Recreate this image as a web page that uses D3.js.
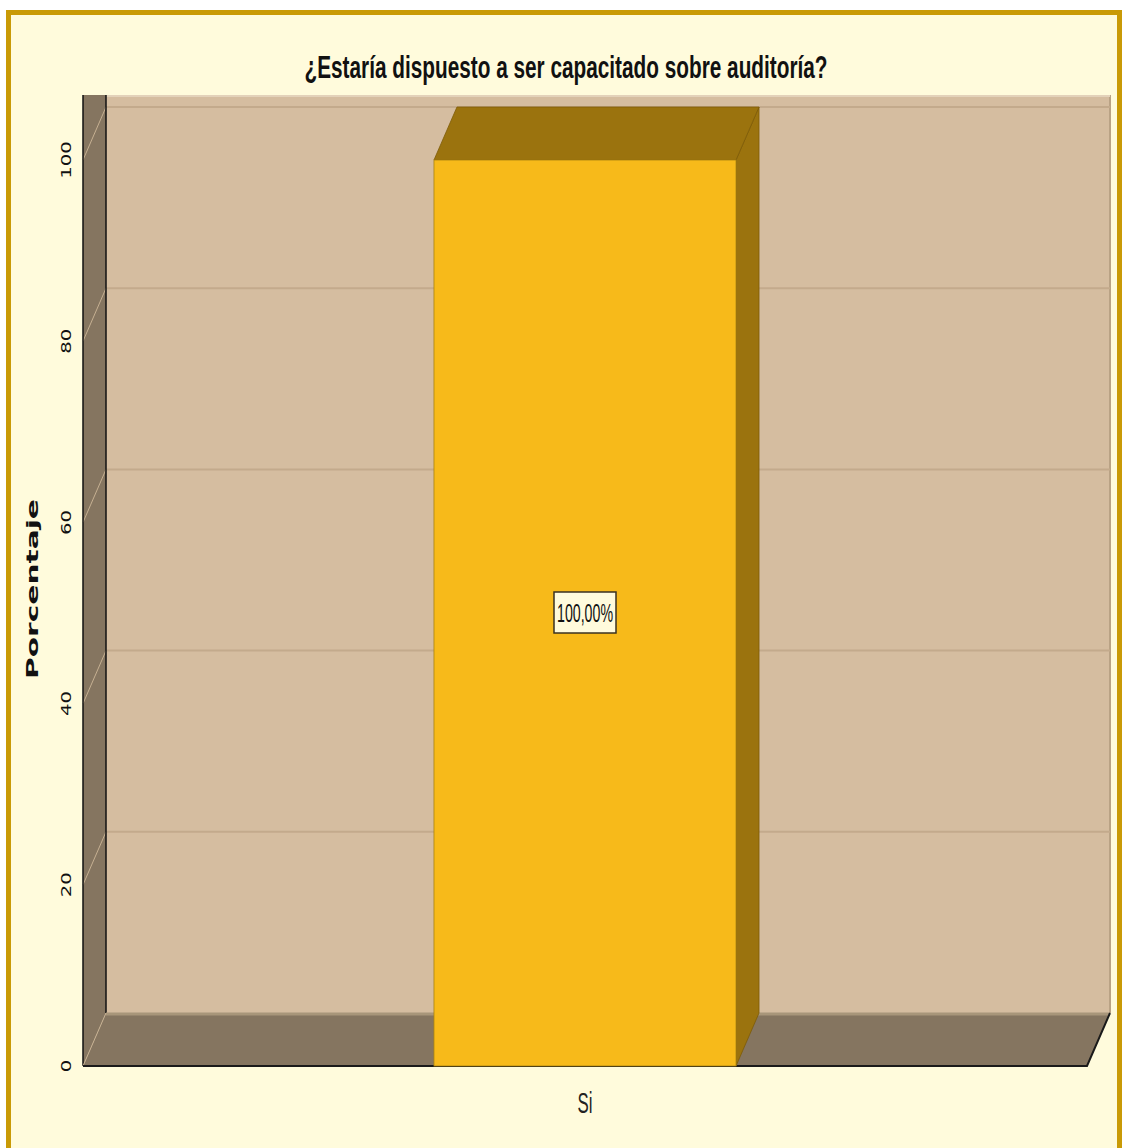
<!DOCTYPE html>
<html>
<head>
<meta charset="utf-8">
<script src="https://cdn.jsdelivr.net/npm/d3@7"></script>
<style>
  html,body{margin:0;padding:0;background:#ffffff;}
  svg{display:block;}
</style>
</head>
<body>
<script>
// ---- data ----
const categories = ["Si"];
const percentages = [100];
const barLabels = ["100,00%"];
const yTicks = [0, 20, 40, 60, 80, 100];
const titleText = "¿Estaría dispuesto a ser capacitado sobre auditoría?";
const yAxisTitle = "Porcentaje";

const W = 1123, H = 1148;
const svg = d3.select("body").append("svg").attr("width", W).attr("height", H);

// frame
svg.append("rect").attr("x", 8.5).attr("y", 12.5).attr("width", 1111).attr("height", 1150)
  .attr("fill", "#FFFBDC").attr("stroke", "#C99A06").attr("stroke-width", 5);

// geometry
const front = {left: 83, right: 1087, bottom: 1066};
const depth = {dx: 23, dy: -53};
const wallTop = 95;

const y = d3.scaleLinear().domain([0, 100]).range([front.bottom, 160]);
const x = d3.scaleBand().domain(categories).range([front.left, front.right]).paddingInner(0).paddingOuter(1.162);

const backY = v => y(v) + depth.dy;
const backLeft = front.left + depth.dx, backRight = front.right + depth.dx;

const defs = svg.append("defs");
defs.append("clipPath").attr("id", "plotclip").append("rect")
  .attr("x", 0).attr("y", wallTop).attr("width", W).attr("height", H);

const g = svg.append("g").attr("clip-path", "url(#plotclip)");

// back wall
g.append("rect").attr("x", backLeft).attr("y", wallTop).attr("width", backRight - backLeft)
  .attr("height", backY(0) - wallTop).attr("fill", "#D5BDA0");
g.append("line").attr("x1", backRight).attr("x2", backRight).attr("y1", wallTop).attr("y2", backY(0))
  .attr("stroke", "#B9A285").attr("stroke-width", 2);
g.append("line").attr("x1", backLeft).attr("x2", backRight).attr("y1", wallTop + 1).attr("y2", wallTop + 1)
  .attr("stroke", "#E3D2BA").attr("stroke-width", 2);

// gridlines on back wall
g.selectAll("line.grid").data(yTicks.filter(d => d > 0)).enter().append("line")
  .attr("class", "grid")
  .attr("x1", backLeft).attr("x2", backRight)
  .attr("y1", d => backY(d)).attr("y2", d => backY(d))
  .attr("stroke", "#C3AA8C").attr("stroke-width", 2);

// left side wall
g.append("path").attr("d", `M${front.left},${front.bottom} L${front.left},${y(100) + depth.dy - 30} L${backLeft},${backY(100) - 30} L${backLeft},${backY(0)} Z`)
  .attr("fill", "#857560");
g.selectAll("line.sgrid").data(yTicks.filter(d => d > 0)).enter().append("line")
  .attr("x1", front.left).attr("y1", d => y(d))
  .attr("x2", backLeft).attr("y2", d => backY(d))
  .attr("stroke", "#C6B092").attr("stroke-width", 1);
g.append("line").attr("x1", front.left).attr("y1", front.bottom).attr("x2", front.left).attr("y2", 0)
  .attr("stroke", "#111").attr("stroke-width", 1.5);
g.append("line").attr("x1", backLeft).attr("y1", backY(0)).attr("x2", backLeft).attr("y2", 0)
  .attr("stroke", "#111").attr("stroke-width", 1.5);

// floor
svg.append("path").attr("d", `M${front.left},${front.bottom} L${backLeft},${backY(0)} L${backRight},${backY(0)} L${front.right},${front.bottom} Z`)
  .attr("fill", "#857560");
svg.append("line").attr("x1", backLeft).attr("x2", backRight).attr("y1", backY(0) + 1).attr("y2", backY(0) + 1)
  .attr("stroke", "#A8967A").attr("stroke-width", 3);
svg.append("line").attr("x1", front.left).attr("y1", front.bottom).attr("x2", backLeft).attr("y2", backY(0))
  .attr("stroke", "#C6B092").attr("stroke-width", 1);
svg.append("path").attr("d", `M${front.left},${front.bottom} L${front.right},${front.bottom} L${backRight},${backY(0)}`)
  .attr("fill", "none").attr("stroke", "#1a1a1a").attr("stroke-width", 2);

// bars
const bars = svg.selectAll("g.bar").data(categories.map((c, i) => ({c, v: percentages[i], label: barLabels[i]})))
  .enter().append("g").attr("class", "bar");
bars.append("path").attr("d", d => {
  const x1 = x(d.c) + x.bandwidth();
  return `M${x1},${y(d.v)} L${x1 + depth.dx},${backY(d.v)} L${x1 + depth.dx},${backY(0)} L${x1},${y(0)} Z`;
}).attr("fill", "#9B730E").attr("stroke", "#7E5C08").attr("stroke-width", 0.8);
bars.append("path").attr("d", d => {
  const x0 = x(d.c), x1 = x(d.c) + x.bandwidth();
  return `M${x0},${y(d.v)} L${x0 + depth.dx},${backY(d.v)} L${x1 + depth.dx},${backY(d.v)} L${x1},${y(d.v)} Z`;
}).attr("fill", "#9B730E").attr("stroke", "#7E5C08").attr("stroke-width", 0.8);
bars.append("rect").attr("x", d => x(d.c)).attr("y", d => y(d.v))
  .attr("width", x.bandwidth()).attr("height", d => y(0) - y(d.v))
  .attr("fill", "#F7BA1A").attr("stroke", "#A88212").attr("stroke-width", 0.8);

// bar label
const cx = d => x(d.c) + x.bandwidth() / 2;
bars.append("rect").attr("x", d => cx(d) - 31).attr("y", d => y(d.v / 2) - 21)
  .attr("width", 62).attr("height", 41)
  .attr("fill", "#FFFBDC").attr("stroke", "#3a3222").attr("stroke-width", 1.5);
bars.append("text").attr("x", d => cx(d)).attr("y", d => y(d.v / 2) + 9)
  .attr("text-anchor", "middle")
  .attr("font-family", "'Liberation Sans Narrow', 'Liberation Sans', Arial, sans-serif")
  .attr("font-size", 26).attr("fill", "#111")
  .attr("textLength", 56).attr("lengthAdjust", "spacingAndGlyphs")
  .text(d => d.label);

// y tick labels (rotated)
svg.selectAll("text.ytick").data(yTicks).enter().append("text")
  .attr("class", "ytick")
  .attr("transform", d => `translate(71,${y(d)}) rotate(-90)`)
  .attr("text-anchor", "middle")
  .attr("font-family", "'DejaVu Sans', Verdana, sans-serif")
  .attr("font-size", 14).attr("fill", "#111")
  .attr("textLength", d => String(d).length * 12.5).attr("lengthAdjust", "spacingAndGlyphs")
  .text(d => d);

// y axis title
svg.append("text").attr("transform", `translate(38,589) rotate(-90)`)
  .attr("text-anchor", "middle")
  .attr("font-family", "'DejaVu Sans', Verdana, sans-serif").attr("font-weight", "bold")
  .attr("font-size", 16).attr("fill", "#111")
  .attr("textLength", 180).attr("lengthAdjust", "spacingAndGlyphs")
  .text(yAxisTitle);

// x axis labels
svg.selectAll("text.xlab").data(categories).enter().append("text")
  .attr("x", d => x(d) + x.bandwidth() / 2).attr("y", 1113)
  .attr("text-anchor", "middle")
  .attr("font-family", "'Liberation Sans Narrow', 'Liberation Sans', Arial, sans-serif")
  .attr("font-size", 29).attr("fill", "#222")
  .attr("textLength", 15).attr("lengthAdjust", "spacingAndGlyphs")
  .text(d => d);

// title
svg.append("text").attr("x", 566).attr("y", 78).attr("text-anchor", "middle")
  .attr("font-family", "'Liberation Sans Narrow', 'Liberation Sans', Arial, sans-serif")
  .attr("font-weight", "bold").attr("font-size", 31).attr("fill", "#111")
  .attr("textLength", 523).attr("lengthAdjust", "spacingAndGlyphs")
  .text(titleText);
</script>
</body>
</html>
